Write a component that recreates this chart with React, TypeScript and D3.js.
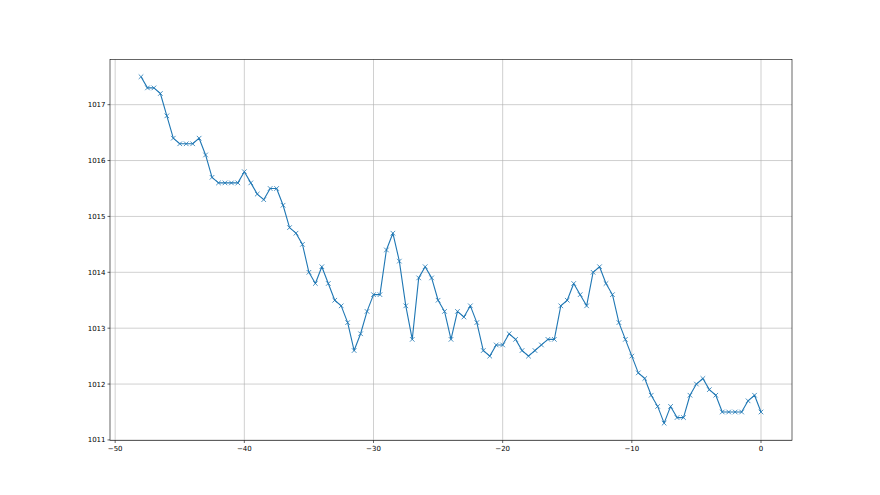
import React, { useEffect, useRef } from "react";
import * as d3 from "d3";

// x positions: -48 .. 0 in steps of 0.5
const hours: number[] = d3.range(-48, 0.001, 0.5);

const pressure: number[] = [
  1017.5, 1017.3, 1017.3, 1017.2, 1016.8, 1016.4, 1016.3, 1016.3, 1016.3, 1016.4,
  1016.1, 1015.7, 1015.6, 1015.6, 1015.6, 1015.6, 1015.8, 1015.6, 1015.4, 1015.3,
  1015.5, 1015.5, 1015.2, 1014.8, 1014.7, 1014.5, 1014.0, 1013.8, 1014.1, 1013.8,
  1013.5, 1013.4, 1013.1, 1012.6, 1012.9, 1013.3, 1013.6, 1013.6, 1014.4, 1014.7,
  1014.2, 1013.4, 1012.8, 1013.9, 1014.1, 1013.9, 1013.5, 1013.3, 1012.8, 1013.3,
  1013.2, 1013.4, 1013.1, 1012.6, 1012.5, 1012.7, 1012.7, 1012.9, 1012.8, 1012.6,
  1012.5, 1012.6, 1012.7, 1012.8, 1012.8, 1013.4, 1013.5, 1013.8, 1013.6, 1013.4,
  1014.0, 1014.1, 1013.8, 1013.6, 1013.1, 1012.8, 1012.5, 1012.2, 1012.1, 1011.8,
  1011.6, 1011.3, 1011.6, 1011.4, 1011.4, 1011.8, 1012.0, 1012.1, 1011.9, 1011.8,
  1011.5, 1011.5, 1011.5, 1011.5, 1011.7, 1011.8, 1011.5,
];

const xTicks: number[] = [-50, -40, -30, -20, -10, 0];
const yTicks: number[] = [1011, 1012, 1013, 1014, 1015, 1016, 1017];

const App = () => {
  const ref = useRef<any>(null);
  const width = 880;
  const height = 495;
  const left = 110;
  const right = 792;
  const top = 59.4;
  const bottom = 440.5;

  useEffect(() => {
    const svg = d3.select(ref.current);
    svg.selectAll("*").remove();

    const xMin = d3.min(hours) as number;
    const xMax = d3.max(hours) as number;
    const yMin = d3.min(pressure) as number;
    const yMax = d3.max(pressure) as number;
    const xPad = (xMax - xMin) * 0.05;
    const yPad = (yMax - yMin) * 0.05;

    const x = d3.scaleLinear().domain([xMin - xPad, xMax + xPad]).range([left, right]);
    const y = d3.scaleLinear().domain([yMin - yPad, yMax + yPad]).range([bottom, top]);

    const fmt = (d: number) => String(d).replace("-", "\u2212");

    // grid
    svg
      .append("g")
      .selectAll("line")
      .data(xTicks)
      .enter()
      .append("line")
      .attr("x1", (d) => x(d))
      .attr("x2", (d) => x(d))
      .attr("y1", top)
      .attr("y2", bottom)
      .style("stroke", "#b0b0b0")
      .style("stroke-width", 0.6);

    svg
      .append("g")
      .selectAll("line")
      .data(yTicks)
      .enter()
      .append("line")
      .attr("x1", left)
      .attr("x2", right)
      .attr("y1", (d) => y(d))
      .attr("y2", (d) => y(d))
      .style("stroke", "#b0b0b0")
      .style("stroke-width", 0.6);

    // line
    const pts: [number, number][] = hours.map((h, i) => [h, pressure[i]]);
    const line = d3
      .line<[number, number]>()
      .x((d) => x(d[0]))
      .y((d) => y(d[1]));

    svg
      .append("path")
      .datum(pts)
      .attr("d", line)
      .style("fill", "none")
      .style("stroke", "#1f77b4")
      .style("stroke-width", 1.1)
      .style("stroke-linejoin", "round");

    // x markers
    const m = 2.3;
    svg
      .append("g")
      .selectAll("path")
      .data(pts)
      .enter()
      .append("path")
      .attr("transform", (d) => "translate(" + x(d[0]) + "," + y(d[1]) + ")")
      .attr("d", `M${-m},${-m}L${m},${m}M${-m},${m}L${m},${-m}`)
      .style("stroke", "#1f77b4")
      .style("stroke-width", 0.8);

    // spines
    svg
      .append("rect")
      .attr("x", left)
      .attr("y", top)
      .attr("width", right - left)
      .attr("height", bottom - top)
      .style("fill", "none")
      .style("stroke", "#000")
      .style("stroke-width", 0.6);

    // x ticks
    const xt = svg.append("g");
    xTicks.forEach((t) => {
      xt.append("line")
        .attr("x1", x(t))
        .attr("x2", x(t))
        .attr("y1", bottom)
        .attr("y2", bottom + 2.5)
        .style("stroke", "#000")
        .style("stroke-width", 0.6);
      xt.append("text")
        .attr("x", x(t))
        .attr("y", bottom + 4.5)
        .attr("dy", "0.8em")
        .attr("text-anchor", "middle")
        .style("font-family", "DejaVu Sans")
        .style("font-size", "7px")
        .text(fmt(t));
    });

    // y ticks
    const yt = svg.append("g");
    yTicks.forEach((t) => {
      yt.append("line")
        .attr("x1", left - 2.5)
        .attr("x2", left)
        .attr("y1", y(t))
        .attr("y2", y(t))
        .style("stroke", "#000")
        .style("stroke-width", 0.6);
      yt.append("text")
        .attr("x", left - 4.5)
        .attr("y", y(t))
        .attr("dy", "0.35em")
        .attr("text-anchor", "end")
        .style("font-family", "DejaVu Sans")
        .style("font-size", "7px")
        .text(fmt(t));
    });
  }, []);

  return (
    <svg
      ref={ref}
      width={width}
      height={height}
      style={{ position: "absolute", left: 0, top: 0, background: "#fff" }}
    ></svg>
  );
};

export default App;
